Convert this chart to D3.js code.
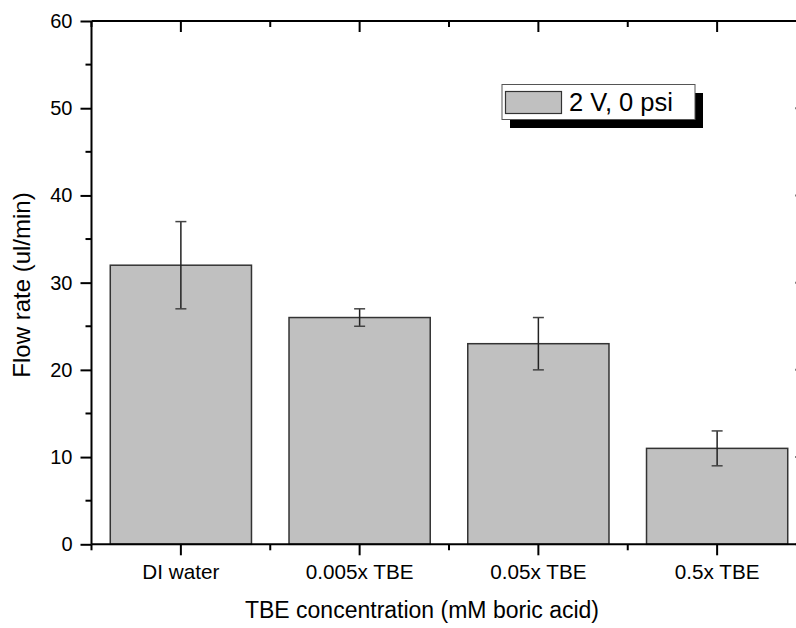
<!DOCTYPE html>
<html><head><meta charset="utf-8">
<script src="https://cdn.jsdelivr.net/npm/d3@7"></script>
<style>body{margin:0;background:#fff}svg{display:block}text{font-family:"Liberation Sans",Arial,sans-serif}</style>
</head><body><svg id="c" width="796" height="628"></svg>
<script>
const categories = ["DI water", "0.005x TBE", "0.05x TBE", "0.5x TBE"];
const flowRate = [32, 26, 23, 11];
const flowErr = [5, 1, 3, 2];
const yTicks = [0, 10, 20, 30, 40, 50, 60];
const yMinorTicks = [5, 15, 25, 35, 45, 55];
const legendLabel = "2 V, 0 psi";
const xTitle = "TBE concentration (mM boric acid)";
const yTitle = "Flow rate (ul/min)";

const svg = d3.select("#c");
const L = 91.5, R = 806.5, T = 21, B = 544.3;
const x = d3.scaleBand().domain(categories).range([L, R]).paddingInner(0.21).paddingOuter(0.105);
const y = d3.scaleLinear().domain([0, 60]).range([B, T]);
const step = x.step();
const mids = categories.map(c => x(c) + x.bandwidth() / 2);
const minorX = [L].concat(mids.map(m => m + step / 2));

// bars
svg.append("g").selectAll("rect").data(categories).join("rect")
  .attr("x", d => x(d)).attr("width", x.bandwidth())
  .attr("y", (d, i) => y(flowRate[i])).attr("height", (d, i) => y(0) - y(flowRate[i]))
  .attr("fill", "#c0c0c0").attr("stroke", "#333").attr("stroke-width", 1.5);

// error bars
const eg = svg.append("g").attr("stroke", "#222").attr("stroke-width", 1.5);
categories.forEach((c, i) => {
  const cx = x(c) + x.bandwidth() / 2;
  const hi = y(flowRate[i] + flowErr[i]), lo = y(flowRate[i] - flowErr[i]);
  eg.append("line").attr("x1", cx).attr("x2", cx).attr("y1", hi).attr("y2", lo);
  eg.append("line").attr("x1", cx - 5.5).attr("x2", cx + 5.5).attr("y1", hi).attr("y2", hi).attr("stroke", "#444");
  eg.append("line").attr("x1", cx - 5.5).attr("x2", cx + 5.5).attr("y1", lo).attr("y2", lo).attr("stroke", "#444");
});

// frame
const fg = svg.append("g").attr("stroke", "#000").attr("stroke-width", 2);
fg.append("line").attr("x1", L).attr("x2", R).attr("y1", T).attr("y2", T);
fg.append("line").attr("x1", L).attr("x2", R).attr("y1", B).attr("y2", B);
fg.append("line").attr("x1", L).attr("x2", L).attr("y1", T).attr("y2", B);
fg.append("line").attr("x1", R).attr("x2", R).attr("y1", T).attr("y2", B);

// left axis
const yAx = svg.append("g").attr("transform", `translate(${L},0)`)
  .call(d3.axisLeft(y).tickValues(yTicks).tickSize(11).tickPadding(8).tickFormat(d3.format("d")));
yAx.select(".domain").remove();
yAx.selectAll("line").attr("stroke-width", 2);
yAx.selectAll("text").attr("font-size", 20).attr("fill", "#000").attr("font-family", "Liberation Sans, Arial, sans-serif");
svg.append("g").selectAll("line").data(yMinorTicks).join("line")
  .attr("x1", L - 6).attr("x2", L).attr("y1", d => y(d)).attr("y2", d => y(d))
  .attr("stroke", "#000").attr("stroke-width", 2);
// right axis inward ticks
svg.append("g").selectAll("line").data(yTicks).join("line")
  .attr("x1", R - 11).attr("x2", R).attr("y1", d => y(d)).attr("y2", d => y(d))
  .attr("stroke", "#000").attr("stroke-width", 2);
svg.append("g").selectAll("line").data(yMinorTicks).join("line")
  .attr("x1", R - 6).attr("x2", R).attr("y1", d => y(d)).attr("y2", d => y(d))
  .attr("stroke", "#000").attr("stroke-width", 2);

// bottom axis
const xAx = svg.append("g").attr("transform", `translate(0,${B})`)
  .call(d3.axisBottom(x).tickSize(11).tickPadding(9));
xAx.select(".domain").remove();
xAx.selectAll("line").attr("stroke-width", 2);
xAx.selectAll("text").attr("font-size", 20.7).attr("fill", "#000").attr("font-family", "Liberation Sans, Arial, sans-serif");
svg.append("g").selectAll("line").data(minorX).join("line")
  .attr("x1", d => d).attr("x2", d => d).attr("y1", B).attr("y2", B + 6)
  .attr("stroke", "#000").attr("stroke-width", 2);
// top inward ticks
svg.append("g").selectAll("line").data(mids).join("line")
  .attr("x1", d => d).attr("x2", d => d).attr("y1", T).attr("y2", T + 11)
  .attr("stroke", "#000").attr("stroke-width", 2);
svg.append("g").selectAll("line").data(minorX).join("line")
  .attr("x1", d => d).attr("x2", d => d).attr("y1", T).attr("y2", T + 6)
  .attr("stroke", "#000").attr("stroke-width", 2);

// titles
svg.append("text").attr("x", 422).attr("y", 618).attr("text-anchor", "middle")
  .attr("font-size", 23).text(xTitle);
svg.append("text").attr("transform", "translate(30,285) rotate(-90)").attr("text-anchor", "middle")
  .attr("font-size", 24).text(yTitle);

// legend
const lg = svg.append("g");
lg.append("rect").attr("x", 510).attr("y", 93).attr("width", 193).attr("height", 35).attr("fill", "#000");
lg.append("rect").attr("x", 502).attr("y", 84.5).attr("width", 193).attr("height", 35)
  .attr("fill", "#fff").attr("stroke", "#555").attr("stroke-width", 1);
lg.append("rect").attr("x", 505.5).attr("y", 91.5).attr("width", 56).attr("height", 22)
  .attr("fill", "#c0c0c0").attr("stroke", "#333").attr("stroke-width", 1.2);
lg.append("text").attr("x", 569).attr("y", 111).attr("font-size", 25.5).text(legendLabel);
</script></body></html>
